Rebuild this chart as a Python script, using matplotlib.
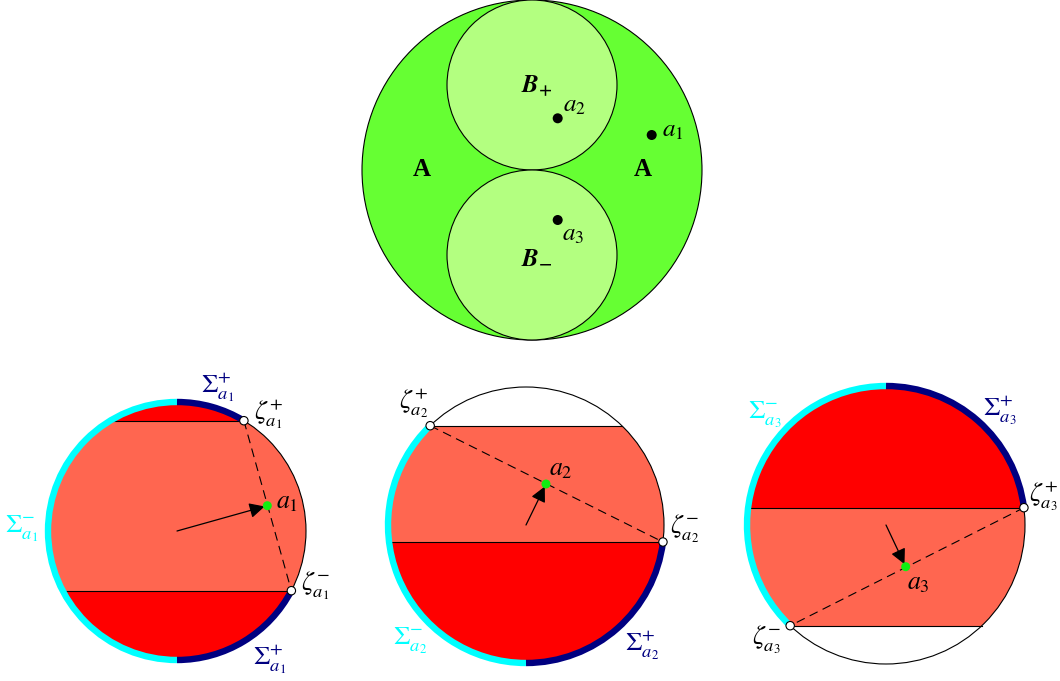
import numpy as np
import matplotlib
matplotlib.use("Agg")
import matplotlib.pyplot as plt
from matplotlib.patches import Circle, Rectangle, Arc, FancyArrowPatch

plt.rcParams["mathtext.fontset"] = "stix"
plt.rcParams["font.family"] = ["STIXGeneral", "DejaVu Serif"]

# ---- top diagram (pixel coordinates, y grows downward) ----
big_center = (532, 170)
big_radius = 170
small_centers = [(532, 85), (532, 255)]
small_radius = 85
top_dots = [(651.7, 135), (557.7, 118.3), (557.7, 220)]
top_texts = [r"$\mathbfit{B}_{\mathbf{+}}$", r"$a_2$", r"$a_1$", "A", "A", r"$a_3$",
             r"$\mathbfit{B}_{\mathbf{-}}$"]
top_text_pos = [(537, 86), (574, 106), (673, 131), (422, 170), (643, 170),
                (573, 235), (537, 257)]

# ---- bottom discs ----
disc_centers = [(177, 531), (526, 525), (886, 525)]
disc_radii = [129, 138, 139]
chord_ys = [(420.7, 590.7), (425.7, 542.0), (507.7, 625.7)]
band_colors = [("#ff0000", "#ff6650", "#ff0000"),
               ("white", "#ff6650", "#ff0000"),
               ("#ff0000", "#ff6650", "white")]
# side of the chord where zeta+ (upper chord) and zeta- (lower chord) sit
zeta_sides = [("right", "right"), ("left", "right"), ("right", "left")]
a_points = [(267.3, 505.7), (546, 484), (905.7, 566.7)]
cyan_arcs = [[("bottom", "top")], [("bottom", "zp")], [("zm", "top")]]
navy_arcs = [[("top", "zp"), ("zm", "bottom")], [("zm", "bottom")], [("top", "zp")]]

disc_labels = [
    [(r"$\Sigma^{+}_{a_1}$", 218, 387, "navy"),
     (r"$\zeta^{+}_{a_1}$", 268, 414, "black"),
     (r"$a_1$", 287, 502, "black"),
     (r"$\zeta^{-}_{a_1}$", 315, 586, "black"),
     (r"$\Sigma^{+}_{a_1}$", 270, 659, "navy"),
     (r"$\Sigma^{-}_{a_1}$", 22, 529, "cyan")],
    [(r"$\zeta^{+}_{a_2}$", 414, 403, "black"),
     (r"$a_2$", 561, 469, "black"),
     (r"$\zeta^{-}_{a_2}$", 685, 529, "black"),
     (r"$\Sigma^{-}_{a_2}$", 410, 641, "cyan"),
     (r"$\Sigma^{+}_{a_2}$", 642, 645, "navy")],
    [(r"$\Sigma^{-}_{a_3}$", 765, 415, "cyan"),
     (r"$\Sigma^{+}_{a_3}$", 1000, 410, "navy"),
     (r"$\zeta^{+}_{a_3}$", 1043, 496, "black"),
     (r"$a_3$", 918, 583, "black"),
     (r"$\zeta^{-}_{a_3}$", 766, 640, "black")],
]

fig = plt.figure(figsize=(10.6, 6.81), dpi=100)
ax = fig.add_axes([0, 0, 1, 1])
ax.set_xlim(0, 1060)
ax.set_ylim(681, 0)
ax.axis("off")

# top
ax.add_patch(Circle(big_center, big_radius, fc="#66ff33", ec="black", lw=0.8, zorder=1))
for c in small_centers:
    ax.add_patch(Circle(c, small_radius, fc="#b3ff80", ec="black", lw=0.8, zorder=2))
for p in top_dots:
    ax.add_patch(Circle(p, 5, fc="black", ec="none", zorder=4))
for t, (x, y) in zip(top_texts, top_text_pos):
    if t == "A":
        ax.text(x, y, t, fontsize=18, fontweight="bold", ha="center", va="center",
                family="Liberation Serif", zorder=5)
    else:
        ax.text(x, y, t, fontsize=18, ha="center", va="center", zorder=5)

# bottom
for i in range(3):
    cx, cy = disc_centers[i]
    r = disc_radii[i]
    y1, y2 = chord_ys[i]
    outline = Circle((cx, cy), r, fc="none", ec="black", lw=0.8, zorder=3)
    ax.add_patch(outline)

    edges = [cy - r - 2, y1, y2, cy + r + 2]
    for k in range(3):
        rect = Rectangle((cx - r - 2, edges[k]), 2 * r + 4, edges[k + 1] - edges[k],
                         fc=band_colors[i][k], ec="none", zorder=1)
        ax.add_patch(rect)
        rect.set_clip_path(outline)

    for y in (y1, y2):
        hw = np.sqrt(r ** 2 - (y - cy) ** 2)
        ax.plot([cx - hw, cx + hw], [y, y], color="black", lw=0.8, zorder=2)

    pts = {}
    for key, y, side in (("zp", y1, zeta_sides[i][0]), ("zm", y2, zeta_sides[i][1])):
        hw = np.sqrt(r ** 2 - (y - cy) ** 2)
        pts[key] = (cx + hw if side == "right" else cx - hw, y)
    ang = {"top": -90.0, "bottom": 90.0}
    for key, (x, y) in pts.items():
        ang[key] = np.degrees(np.arctan2(y - cy, x - cx))

    for arcs, col in ((cyan_arcs[i], "cyan"), (navy_arcs[i], "navy")):
        for a, b in arcs:
            ax.add_patch(Arc((cx, cy), 2 * r, 2 * r, theta1=ang[a], theta2=ang[b],
                             color=col, lw=4.6, zorder=4, capstyle="butt"))

    zp, zm = pts["zp"], pts["zm"]
    ax.plot([zp[0], zm[0]], [zp[1], zm[1]], color="black", lw=0.8,
            linestyle=(0, (8, 5)), zorder=5)

    ax.add_patch(FancyArrowPatch((cx, cy), a_points[i], arrowstyle="-|>",
                                 mutation_scale=23, lw=0.9, color="black",
                                 shrinkA=0, shrinkB=2, zorder=6))
    ax.add_patch(Circle(a_points[i], 4.5, fc="#11ee11", ec="none", zorder=7))
    for p in (zp, zm):
        ax.add_patch(Circle(p, 4.2, fc="white", ec="black", lw=0.8, zorder=7))

    for t, x, y, col in disc_labels[i]:
        fs = 18.5 if t.startswith("$a") else 19
        ax.text(x, y, t, fontsize=fs, color=col, ha="center", va="center", zorder=8)

fig.savefig("out.png", dpi=100)
